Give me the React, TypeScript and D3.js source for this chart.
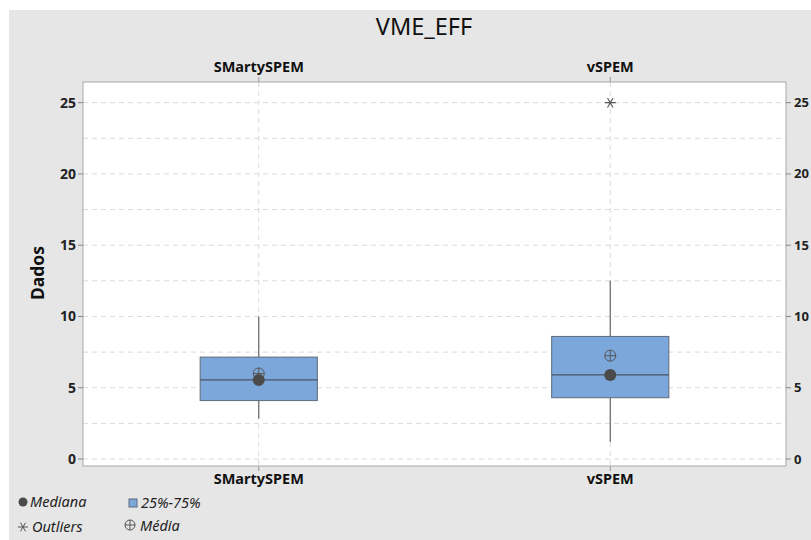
import React from "react";
import * as d3 from "d3";

// Groups and summary statistics
const groups = ["SMartySPEM", "vSPEM"];
const whiskerLow = [2.85, 1.2];
const q1 = [4.1, 4.3];
const median = [5.55, 5.9];
const q3 = [7.15, 8.6];
const whiskerHigh = [10.0, 12.5];
const means = [6.0, 7.25];
const outliers: number[][] = [[], [25]];

const yTicks = [0, 5, 10, 15, 20, 25];
const gridValues = [0, 2.5, 5, 7.5, 10, 12.5, 15, 17.5, 20, 22.5, 25];

const W = 811;
const H = 540;
const FONT = "'Noto Sans', 'Open Sans', sans-serif";

export default function App() {
  const left = 83;
  const right = 786;
  const top = 82;
  const bottom = 466;

  const x = d3.scaleBand<string>().domain(groups).range([left, right]).padding(0);
  const y = d3.scaleLinear().domain([-0.49, 26.45]).range([bottom, top]);
  const boxW = x.bandwidth() / 3;

  const starPath = (cx: number, cy: number, r: number) =>
    [0, 60, 120]
      .map((a) => {
        const rad = (a * Math.PI) / 180;
        const dx = Math.cos(rad) * r;
        const dy = Math.sin(rad) * r;
        return `M${cx - dx},${cy - dy}L${cx + dx},${cy + dy}`;
      })
      .join("");

  const meanSymbol = (cx: number, cy: number, r: number, key?: string) => (
    <g key={key} stroke="#555" strokeWidth={1} fill="none">
      <circle cx={cx} cy={cy} r={r} />
      <line x1={cx - r} x2={cx + r} y1={cy} y2={cy} />
      <line x1={cx} x2={cx} y1={cy - r} y2={cy + r} />
    </g>
  );

  return (
    <svg width={W} height={H} style={{ position: "absolute", left: 0, top: 0 }} fontFamily={FONT}>
      <rect x={9} y={10} width={W - 9} height={H - 10} fill="#e6e6e6" />
      <text x={424} y={35} textAnchor="middle" fontSize={23.5} fill="#111">
        VME_EFF
      </text>

      {/* plot area */}
      <rect x={left} y={top} width={right - left} height={bottom - top} fill="#fff" />

      {/* dashed grid */}
      {gridValues.map((v) => (
        <line
          key={"g" + v}
          x1={left}
          x2={right}
          y1={y(v)}
          y2={y(v)}
          stroke="#dadada"
          strokeDasharray="5,4"
        />
      ))}
      {groups.map((g) => (
        <line
          key={"vg" + g}
          x1={x(g)! + x.bandwidth() / 2}
          x2={x(g)! + x.bandwidth() / 2}
          y1={top}
          y2={bottom}
          stroke="#dadada"
          strokeDasharray="5,4"
        />
      ))}

      <rect x={left} y={top} width={right - left} height={bottom - top} fill="none" stroke="#a8a8a8" />

      {/* y axes, both sides */}
      {yTicks.map((v) => (
        <g key={"t" + v} fontWeight={700} fill="#222">
          <line x1={left - 5} x2={left} y1={y(v)} y2={y(v)} stroke="#888" />
          <text x={left - 7} y={y(v)} dy="0.35em" textAnchor="end" fontSize={14}>
            {v}
          </text>
          <line x1={right} x2={right + 5} y1={y(v)} y2={y(v)} stroke="#888" />
          <text x={right + 8} y={y(v)} dy="0.35em" textAnchor="start" fontSize={13}>
            {v}
          </text>
        </g>
      ))}
      <text
        transform={`translate(44,${(top + bottom) / 2 - 1}) rotate(-90)`}
        textAnchor="middle"
        fontSize={17.5}
        fontWeight={700}
        fill="#111"
      >
        Dados
      </text>

      {/* group labels top and bottom */}
      {groups.map((g) => {
        const cx = x(g)! + x.bandwidth() / 2;
        return (
          <g key={"lab" + g} fontSize={14.5} fontWeight={700} fill="#111">
            <line x1={cx} x2={cx} y1={top - 5} y2={top} stroke="#999" />
            <text x={cx} y={72} textAnchor="middle">
              {g}
            </text>
            <line x1={cx} x2={cx} y1={bottom} y2={bottom + 5} stroke="#999" />
            <text x={cx} y={484} textAnchor="middle">
              {g}
            </text>
          </g>
        );
      })}

      {/* boxes */}
      {groups.map((g, i) => {
        const cx = x(g)! + x.bandwidth() / 2;
        return (
          <g key={"box" + g}>
            <line x1={cx} x2={cx} y1={y(whiskerHigh[i])} y2={y(q3[i])} stroke="#666" strokeWidth={1.2} />
            <line x1={cx} x2={cx} y1={y(q1[i])} y2={y(whiskerLow[i])} stroke="#666" strokeWidth={1.2} />
            <rect
              x={cx - boxW / 2}
              y={y(q3[i])}
              width={boxW}
              height={y(q1[i]) - y(q3[i])}
              fill="#7ba7da"
              stroke="#5f6b7a"
              strokeWidth={1}
            />
            <line x1={cx - boxW / 2} x2={cx + boxW / 2} y1={y(median[i])} y2={y(median[i])} stroke="#4a5566" strokeWidth={1.2} />
            {meanSymbol(cx, y(means[i]), 5.5)}
            <circle cx={cx} cy={y(median[i])} r={6} fill="#4a4a4a" />
            {outliers[i].map((o, j) => (
              <path key={j} d={starPath(cx, y(o), 5.5)} stroke="#555" strokeWidth={1.1} />
            ))}
          </g>
        );
      })}

      {/* legend */}
      <g fontSize={14.5} fontStyle="italic" fill="#222">
        <circle cx={23} cy={502} r={4.5} fill="#4a4a4a" />
        <text x={30} y={507}>Mediana</text>
        <rect x={129} y={499} width={8} height={8} fill="#7ba7da" stroke="#5f6b7a" />
        <text x={141} y={508}>25%-75%</text>
        <path d={starPath(23, 527, 5)} stroke="#555" strokeWidth={1} />
        <text x={32} y={532}>Outliers</text>
        {meanSymbol(130, 525, 5)}
        <text x={140} y={531}>Média</text>
      </g>
    </svg>
  );
}
